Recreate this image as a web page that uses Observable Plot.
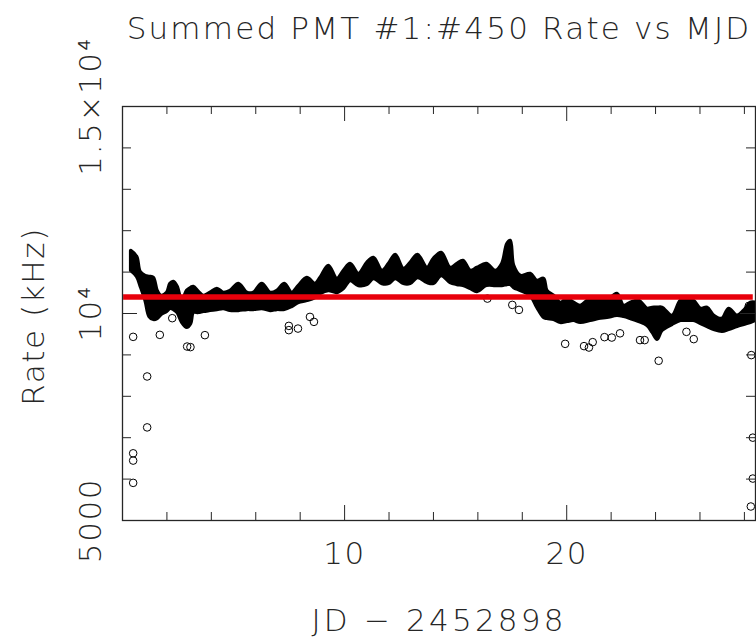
<!DOCTYPE html>
<html><head><meta charset="utf-8">
<script src="https://cdn.jsdelivr.net/npm/d3@7"></script>
<script src="https://cdn.jsdelivr.net/npm/@observablehq/plot@0.6"></script>
<style>
html,body{margin:0;padding:0;background:#fff;}
#chart svg{display:block;}
#chart text{letter-spacing:1.6px;}
</style></head><body><div id="chart"></div>
<script>
const title = "Summed PMT #1:#450 Rate vs MJD";
const xLabel = "JD − 2452898";
const yLabel = "Rate (kHz)";
const xDomain = [0, 28.5];
const yDomain = [5000, 15000];
const xTickLabels = [10, 20];
const yTickLabels = [5000, 10000, 15000];
const yTickText = ["5000", "10⁴", "1.5×10⁴"];
const xMinorTicks = [2, 4, 6, 8, 12, 14, 16, 18, 22, 24, 26, 28];
const xMajorTicks = [10, 20];
const yMinorTicks = [6000, 7000, 8000, 9000, 11000, 12000, 13000, 14000];
const yMajorTicks = [10000];

// dense band of points: upper and lower edge of the black band (kHz)
const bandDay = [0.39,0.66,0.81,1.04,1.22,1.41,1.58,1.76,2.01,2.16,2.31,2.48,2.69,2.91,3.09,3.21,3.44,3.66,3.96,4.27,
  4.56,4.86,5.24,5.62,5.91,6.29,6.67,6.97,7.31,7.64,7.94,8.32,8.69,8.92,9.29,9.67,9.97,10.27,10.64,11.02,
  11.32,11.70,12.00,12.30,12.67,12.97,13.30,13.73,14.02,14.37,14.77,15.08,15.35,15.68,15.98,16.40,16.80,17.10,17.33,17.48,
  17.63,17.93,18.38,18.68,18.98,19.13,19.43,19.73,20.03,20.33,20.63,21.08,21.46,21.83,22.28,22.58,22.88,23.26,23.64,23.87,
  24.09,24.31,24.76,25.14,25.44,25.73,26.04,26.34,26.64,27.01,27.31,27.69,27.99,28.29,28.51];
const bandHigh = [11510,11365,11003,10907,10883,10859,10545,10425,10497,10714,10762,10642,10304,10545,10618,10642,10521,10425,10497,10594,
  10497,10545,10714,10497,10497,10714,10497,10545,10714,10497,10666,10859,10714,10859,11148,10835,11028,11196,10955,11220,
  11341,11028,11196,11413,11076,11220,11413,11100,11317,11461,11100,11196,11269,11028,11100,11196,11028,11196,11678,11751,
  11148,10907,10955,10786,10835,10545,10425,10256,10352,10256,10184,10352,10304,10304,10473,10184,10256,10304,10111,10136,
  10136,10136,9943,10304,10352,10304,10111,10136,9943,9870,10111,9943,10063,10256,10256];
const bandLow = [11028,10883,10666,10304,9918,9846,9870,9967,10039,10111,10087,10015,9774,9653,9750,10015,10015,10039,10063,10087,
  10111,10063,10063,10087,10087,10111,10063,10087,10087,10160,10256,10304,10377,10473,10545,10497,10594,10786,10666,10690,
  10835,10714,10714,10835,10714,10714,10859,10738,10714,10907,10738,10690,10666,10594,10521,10666,10666,10666,10690,10690,
  10618,10545,10425,10136,9894,9870,9846,9774,9798,9822,9774,9822,9870,9894,9943,9918,9870,9798,9701,9533,
  9364,9581,9726,9822,9822,9822,9750,9677,9605,9557,9605,9677,9726,9774,9822];

// isolated low points (open circles)
const outDay = [0.48,1.11,1.11,0.48,0.48,0.48,1.68,2.24,2.91,3.06,3.71,7.49,7.49,7.90,8.44,8.62,16.43,17.55,17.85,
  19.93,20.78,21.00,21.17,21.70,22.03,22.40,23.30,23.51,24.14,25.39,25.72,24.09,28.20,28.31,28.38,28.38,28.29];
const outRate = [9436,8479,7249,6623,6447,5909,9484,9887,9202,9188,9477,9701,9598,9636,9918,9798,10360,10208,10087,
  9267,9212,9178,9308,9429,9419,9521,9357,9357,8858,9557,9381,10063,10184,8995,7001,6013,5338];

const fitLevel = 10400;
const fitStart = 0.05;
const fitEnd = 28.4;

const band = bandDay.map((d, i) => ({day: d, hi: bandHigh[i], lo: bandLow[i]}));
const outliers = outDay.map((d, i) => ({day: d, rate: outRate[i]}));
const fit = [{y: fitLevel, x1: fitStart, x2: fitEnd}];

const W = 756, H = 638, mL = 122, mR = 1, mT = 106, mB = 118;
const innerW = W - mL - mR, innerH = H - mT - mB;
const ink = "#262626";
const fs = 31;

const chart = Plot.plot({
  width: W, height: H,
  marginLeft: mL, marginRight: mR, marginTop: mT, marginBottom: mB,
  style: {fontFamily: "DejaVu Sans", fontWeight: 200, background: "#fff", overflow: "visible"},
  x: {domain: xDomain, axis: null},
  y: {domain: yDomain, axis: null},
  marks: [
    Plot.areaY(band, {x: "day", y1: "lo", y2: "hi", fill: "#000", stroke: "#000", strokeWidth: 3.5, strokeLinejoin: "round", curve: "catmull-rom", clip: true}),
    Plot.dot(outliers, {x: "day", y: "rate", r: 3.8, stroke: "#000", strokeWidth: 1, fill: "none", clip: true}),
    Plot.ruleY(fit, {y: "y", x1: "x1", x2: "x2", stroke: "#e8000b", strokeWidth: 5.5}),
    // inward ticks
    Plot.ruleX(xMinorTicks, {x: d => d, insetTop: innerH - 8, stroke: ink}),
    Plot.ruleX(xMajorTicks, {x: d => d, insetTop: innerH - 15, stroke: ink}),
    Plot.ruleX(xMinorTicks, {x: d => d, insetBottom: innerH - 8, stroke: ink}),
    Plot.ruleX(xMajorTicks, {x: d => d, insetBottom: innerH - 15, stroke: ink}),
    Plot.ruleY(yMinorTicks, {y: d => d, insetRight: innerW - 9, stroke: ink}),
    Plot.ruleY(yMajorTicks, {y: d => d, insetRight: innerW - 15, stroke: ink}),
    Plot.ruleY(yMinorTicks, {y: d => d, insetLeft: innerW - 9, stroke: ink}),
    Plot.ruleY(yMajorTicks, {y: d => d, insetLeft: innerW - 15, stroke: ink}),
    Plot.frame({stroke: ink, strokeWidth: 1.3}),
    // labels
    Plot.text([title], {frameAnchor: "top", dy: -68, lineAnchor: "bottom", fontSize: fs, fill: ink, text: d => d}),
    Plot.text(xTickLabels, {x: d => d, frameAnchor: "bottom", dy: 43, lineAnchor: "bottom", fontSize: fs, fill: ink, text: d => String(d)}),
    Plot.text([xLabel], {frameAnchor: "bottom", dy: 110, lineAnchor: "bottom", fontSize: fs, fill: ink, text: d => d}),
    Plot.text(yTickLabels, {y: d => d, frameAnchor: "left", dx: -22, rotate: -90, lineAnchor: "bottom", textAnchor: "middle", fontSize: fs, fill: ink, text: (d, i) => yTickText[i]}),
    Plot.text([yLabel], {frameAnchor: "left", dx: -79, dy: 3, rotate: -90, lineAnchor: "bottom", textAnchor: "middle", fontSize: fs, fill: ink, text: d => d})
  ]
});
document.getElementById("chart").appendChild(chart);
chart.querySelectorAll("text").forEach(t => {
  if (t.textContent === title) t.style.letterSpacing = "2.2px";
  if (t.textContent === xLabel) t.style.letterSpacing = "3.2px";
});
</script>
</body></html>
